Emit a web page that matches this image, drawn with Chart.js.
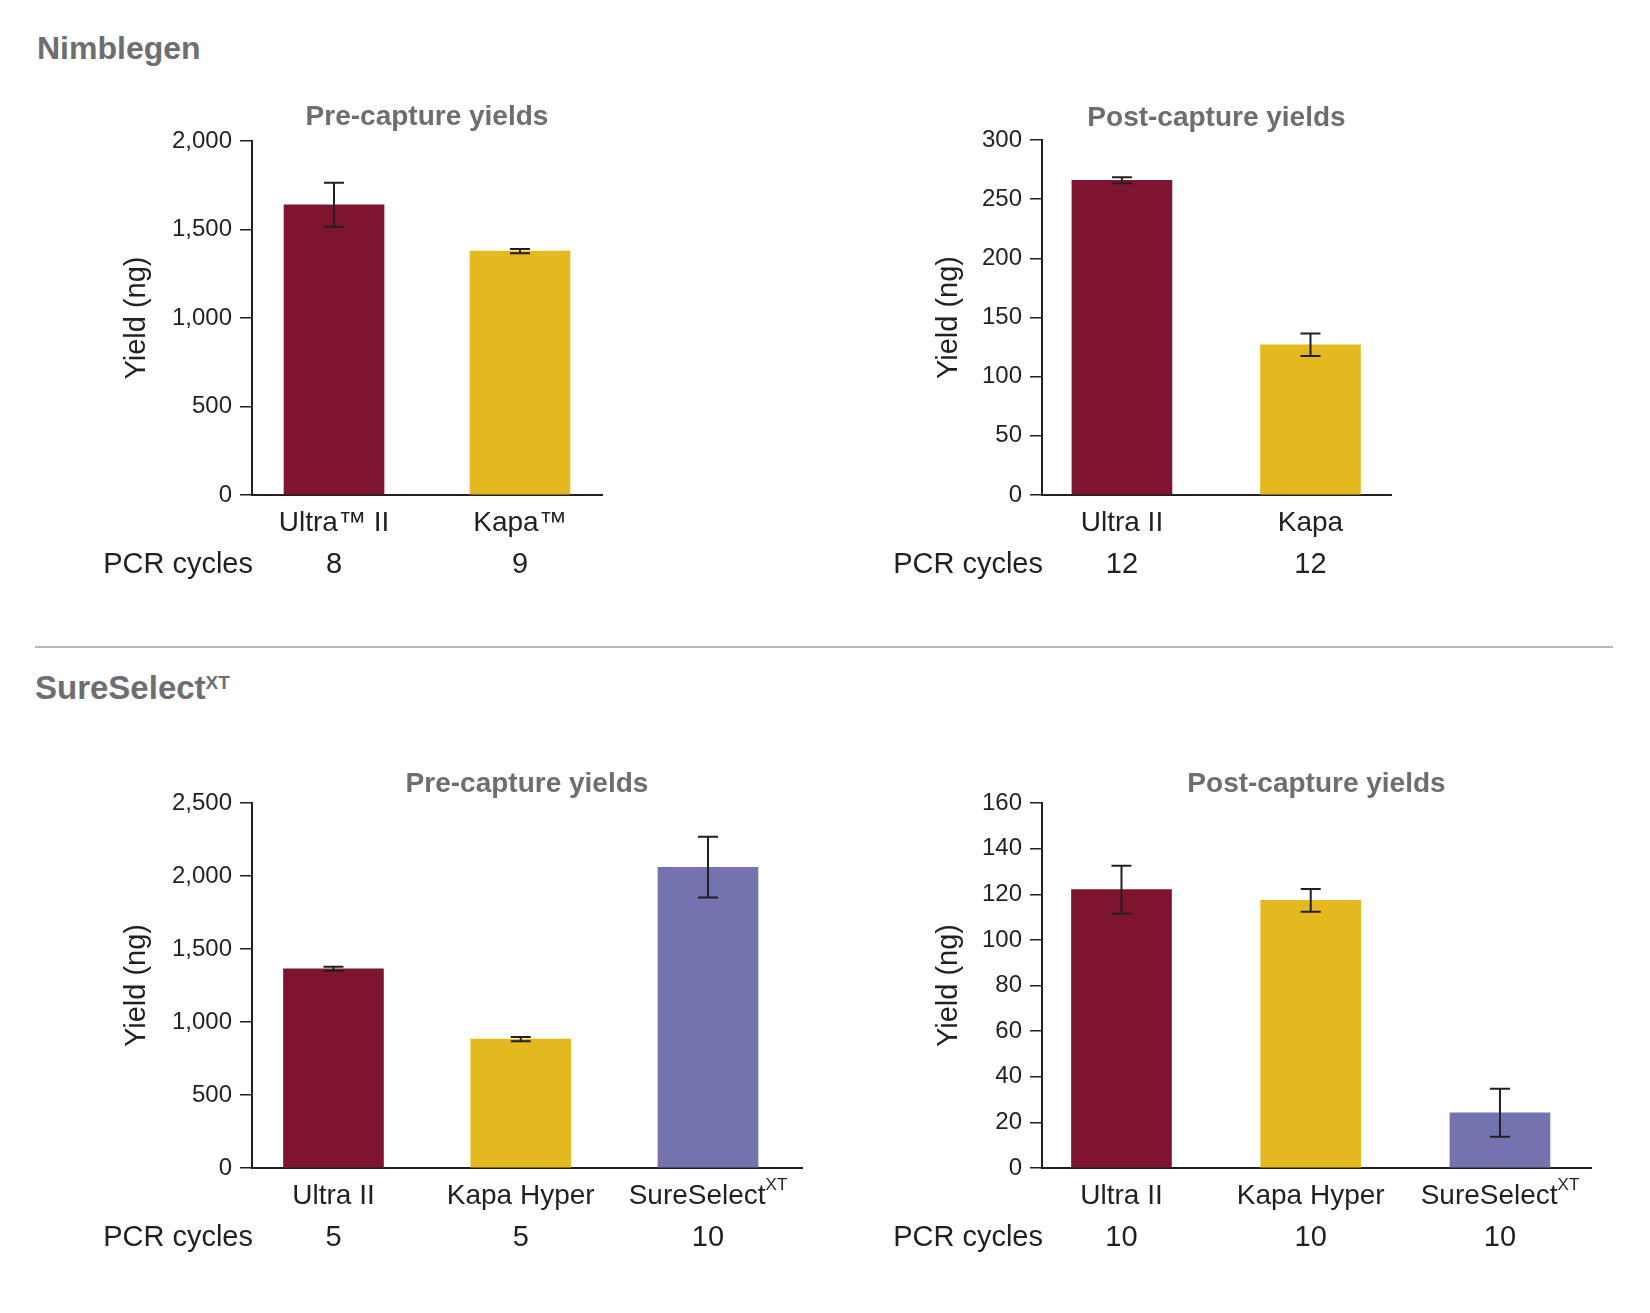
<!DOCTYPE html>
<html>
<head>
<meta charset="utf-8">
<script src="https://cdn.jsdelivr.net/npm/chart.js@4.4.0/dist/chart.umd.min.js"></script>
<style>
body { margin:0; background:#fff; width:1650px; height:1313px; position:relative; overflow:hidden; font-family:"Liberation Sans", Arial, sans-serif; }
canvas { position:absolute; }
.heading { position:absolute; font-weight:bold; color:#6d6e71; line-height:1; white-space:nowrap; }
.rule { position:absolute; left:35px; top:646px; width:1578px; height:2px; background:#b8b8b8; }
</style>
</head>
<body>
<div class="heading" style="left:37px;top:32px;font-size:32px">Nimblegen</div>
<div class="rule"></div>
<div class="heading" style="left:35px;top:671px;font-size:33px">SureSelect<span style="font-size:19px;position:relative;top:-10px">XT</span></div>

<canvas id="nimPre" width="825" height="520" style="left:0;top:80px"></canvas>
<canvas id="nimPost" width="825" height="520" style="left:825px;top:80px"></canvas>
<canvas id="ssPre" width="825" height="560" style="left:0;top:740px"></canvas>
<canvas id="ssPost" width="825" height="560" style="left:825px;top:740px"></canvas>

<script>
// Nimblegen
const nimPreLabels = ['Ultra™ II', 'Kapa™'];
const nimPreCycles = ['8', '9'];
const nimPreYield = [1640, 1378];
const nimPreErr = [124, 12];
const nimPreTicks = [0, 500, 1000, 1500, 2000];

const nimPostLabels = ['Ultra II', 'Kapa'];
const nimPostCycles = ['12', '12'];
const nimPostYield = [266, 127];
const nimPostErr = [2.5, 9.5];
const nimPostTicks = [0, 50, 100, 150, 200, 250, 300];

// SureSelect XT
const ssLabels = ['Ultra II', 'Kapa Hyper', 'SureSelect'];
const ssLabelSup = ['', '', 'XT'];
const ssPreCycles = ['5', '5', '10'];
const ssPreYield = [1364, 883, 2060];
const ssPreErr = [15, 15, 208];
const ssPreTicks = [0, 500, 1000, 1500, 2000, 2500];

const ssPostCycles = ['10', '10', '10'];
const ssPostYield = [122, 117.3, 24.2];
const ssPostErr = [10.5, 5, 10.5];
const ssPostTicks = [0, 20, 40, 60, 80, 100, 120, 140, 160];

const barColors = ['#7f1431', '#e4b920', '#7473b0'];

const FONT = '"Liberation Sans", Arial, sans-serif';
const INK = '#231f20';
const GREY = '#6d6e71';

function makeChart(id, c) {
    const canvas = document.getElementById(id);
    const cx = parseFloat(canvas.style.left), cy = parseFloat(canvas.style.top);
    const W = canvas.width, H = canvas.height;

    const decor = {
        id: 'decor',
        afterDatasetsDraw(chart) {
            const ctx = chart.ctx, y = chart.scales.y;
            const meta = chart.getDatasetMeta(0);
            ctx.save();
            ctx.strokeStyle = INK;
            ctx.lineWidth = 2;
            c.values.forEach((v, i) => {
                const px = meta.data[i].x;
                const top = y.getPixelForValue(v + c.errs[i]);
                const bot = y.getPixelForValue(v - c.errs[i]);
                ctx.beginPath();
                ctx.moveTo(px, top); ctx.lineTo(px, bot);
                ctx.moveTo(px - 10, top); ctx.lineTo(px + 10, top);
                ctx.moveTo(px - 10, bot); ctx.lineTo(px + 10, bot);
                ctx.stroke();
            });
            ctx.restore();
        },
        afterDraw(chart) {
            const ctx = chart.ctx, a = chart.chartArea, x = chart.scales.x;
            ctx.save();
            // chart title
            ctx.font = 'bold 28px ' + FONT;
            ctx.fillStyle = GREY;
            ctx.textAlign = 'center';
            ctx.textBaseline = 'middle';
            ctx.fillText(c.title, (a.left + a.right) / 2, a.top - c.titleGap);

            // category names + PCR cycles
            ctx.fillStyle = INK;
            c.labels.forEach((lab, i) => {
                const px = x.getPixelForValue(i);
                const sup = c.sup ? c.sup[i] : '';
                ctx.font = '28px ' + FONT;
                const w1 = ctx.measureText(lab).width;
                ctx.font = '17px ' + FONT;
                const w2 = sup ? ctx.measureText(sup).width : 0;
                const start = px - (w1 + w2) / 2;
                ctx.textAlign = 'left';
                ctx.font = '28px ' + FONT;
                ctx.fillText(lab, start, a.bottom + 28);
                if (sup) {
                    ctx.font = '17px ' + FONT;
                    ctx.fillText(sup, start + w1, a.bottom + 17);
                }
                ctx.font = '29px ' + FONT;
                ctx.textAlign = 'center';
                ctx.fillText(c.cycles[i], px, a.bottom + 70);
            });
            ctx.font = '29px ' + FONT;
            ctx.textAlign = 'right';
            ctx.fillText('PCR cycles', a.left + 1, a.bottom + 70);
            ctx.restore();
        }
    };

    return new Chart(canvas, {
        type: 'bar',
        data: {
            datasets: [{
                data: c.values.map((v, i) => ({ x: i, y: v })),
                backgroundColor: barColors.slice(0, c.values.length),
                barThickness: 100,
                borderWidth: 0
            }]
        },
        options: {
            responsive: false,
            animation: false,
            layout: {
                padding: {
                    left: c.area.left - cx - c.yW,
                    top: c.area.top - cy,
                    right: cx + W - c.area.right,
                    bottom: cy + H - c.area.bottom
                }
            },
            plugins: { legend: { display: false }, tooltip: { enabled: false } },
            scales: {
                x: {
                    type: 'linear',
                    offset: false,
                    min: c.xMin, max: c.xMax,
                    ticks: { display: false },
                    grid: { drawOnChartArea: false, drawTicks: false },
                    border: { color: INK, width: 2 },
                    afterFit: s => { s.height = 0; }
                },
                y: {
                    min: c.ticks[0],
                    max: c.ticks[c.ticks.length - 1],
                    ticks: {
                        stepSize: c.ticks[1] - c.ticks[0],
                        color: INK,
                        padding: 8,
                        font: { family: FONT, size: 24 },
                        callback: v => v.toLocaleString('en-US')
                    },
                    grid: { drawOnChartArea: false, color: INK, lineWidth: 1.5, tickLength: 12 },
                    border: { color: INK, width: 2 },
                    title: {
                        display: true,
                        text: 'Yield (ng)',
                        color: INK,
                        padding: { top: 0, bottom: 0 },
                        font: { family: FONT, size: 29 }
                    },
                    afterFit: s => { s.width = c.yW; }
                }
            }
        },
        plugins: [decor]
    });
}

makeChart('nimPre', {
    title: 'Pre-capture yields', titleGap: 24,
    labels: nimPreLabels, cycles: nimPreCycles, values: nimPreYield, errs: nimPreErr, ticks: nimPreTicks,
    area: { left: 252, top: 141, right: 602, bottom: 495 }, yW: 132,
    xMin: -0.441, xMax: 1.441
});
makeChart('nimPost', {
    title: 'Post-capture yields', titleGap: 22,
    labels: nimPostLabels, cycles: nimPostCycles, values: nimPostYield, errs: nimPostErr, ticks: nimPostTicks,
    area: { left: 1042, top: 140, right: 1391, bottom: 495 }, yW: 110,
    xMin: -0.424, xMax: 1.427
});
makeChart('ssPre', {
    title: 'Pre-capture yields', titleGap: 19,
    labels: ssLabels, sup: ssLabelSup, cycles: ssPreCycles, values: ssPreYield, errs: ssPreErr, ticks: ssPreTicks,
    area: { left: 252, top: 803, right: 802, bottom: 1168 }, yW: 132,
    xMin: -0.435, xMax: 2.502
});
makeChart('ssPost', {
    title: 'Post-capture yields', titleGap: 19,
    labels: ssLabels, sup: ssLabelSup, cycles: ssPostCycles, values: ssPostYield, errs: ssPostErr, ticks: ssPostTicks,
    area: { left: 1042, top: 803, right: 1591, bottom: 1168 }, yW: 110,
    xMin: -0.42, xMax: 2.481
});
</script>
</body>
</html>
